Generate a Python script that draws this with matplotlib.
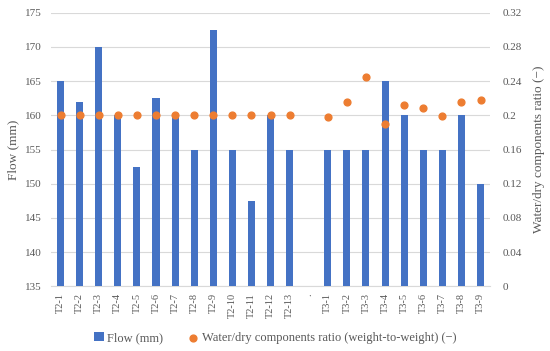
import matplotlib.pyplot as plt
import numpy as np

# categories
labels = ['T2-1', 'T2-2', 'T2-3', 'T2-4', 'T2-5', 'T2-6', 'T2-7', 'T2-8', 'T2-9',
          'T2-10', 'T2-11', 'T2-12', 'T2-13', '.',
          'T3-1', 'T3-2', 'T3-3', 'T3-4', 'T3-5', 'T3-6', 'T3-7', 'T3-8', 'T3-9']

# flow (mm)
flow = [165, 162, 170, 160, 152.5, 162.5, 160, 155, 172.5,
        155, 147.5, 160, 155, np.nan,
        155, 155, 155, 165, 160, 155, 155, 160, 150]

# water/dry ratio
ratio = [0.2, 0.2, 0.2, 0.2, 0.2, 0.2, 0.2, 0.2, 0.2,
         0.2, 0.2, 0.2, 0.2, np.nan,
         0.198, 0.215, 0.245, 0.19, 0.212, 0.208, 0.199, 0.215, 0.218]

plt.rcParams['font.family'] = ['Liberation Serif', 'DejaVu Serif']

blue = '#4472C4'
orange = '#ED7D31'
gray = '#595959'

fig = plt.figure(figsize=(5.5, 3.51), dpi=100)
ax = fig.add_axes([0.0927, 0.1843, 0.7983, 0.7795])
ax2 = ax.twinx()

x = np.arange(len(labels))
flow_arr = np.array(flow)
bars = ax.bar(x, flow_arr - 135, bottom=135, width=0.37, color=blue, zorder=3,
              label='Flow (mm)')
dots = ax2.scatter(x, ratio, s=24, color=orange, zorder=4,
                   label='Water/dry components ratio (weight-to-weight) (\u2212)')

ax.set_ylim(135, 175)
ax.set_yticks(np.arange(135, 176, 5))
ax2.set_ylim(0, 0.32)
ax2.set_yticks([0, 0.04, 0.08, 0.12, 0.16, 0.2, 0.24, 0.28, 0.32])
ax2.set_yticklabels(['0', '0.04', '0.08', '0.12', '0.16', '0.2', '0.24', '0.28', '0.32'])
ax.set_xlim(-0.5, len(labels) - 0.5)
ax.set_xticks(x)
ax.set_xticklabels(labels, rotation=90, fontsize=7.5)

ax.grid(axis='y', color='#D9D9D9', linewidth=0.8, zorder=0)
ax.set_axisbelow(True)

for a in (ax, ax2):
    for s in a.spines.values():
        s.set_visible(False)
    a.tick_params(length=0, colors=gray, labelsize=8)
ax.tick_params(axis='x', labelsize=7.5, pad=5)
ax.spines['bottom'].set_visible(True)
ax.spines['bottom'].set_color('#D9D9D9')
ax.tick_params(axis='y', pad=7)
ax2.tick_params(axis='y', pad=9)

ax.set_ylabel('Flow (mm)', color=gray, fontsize=9.5, labelpad=4)
ax2.set_ylabel('Water/dry components ratio (\u2212)', color=gray, fontsize=9.5,
               labelpad=8)

fig.legend(handles=[bars, dots], loc='center', bbox_to_anchor=(0.5, 0.037),
           ncol=2, frameon=False, fontsize=9, labelcolor=gray,
           handlelength=0.8, handletextpad=0.3, columnspacing=2.0)

fig.savefig('out.png', dpi=100)
